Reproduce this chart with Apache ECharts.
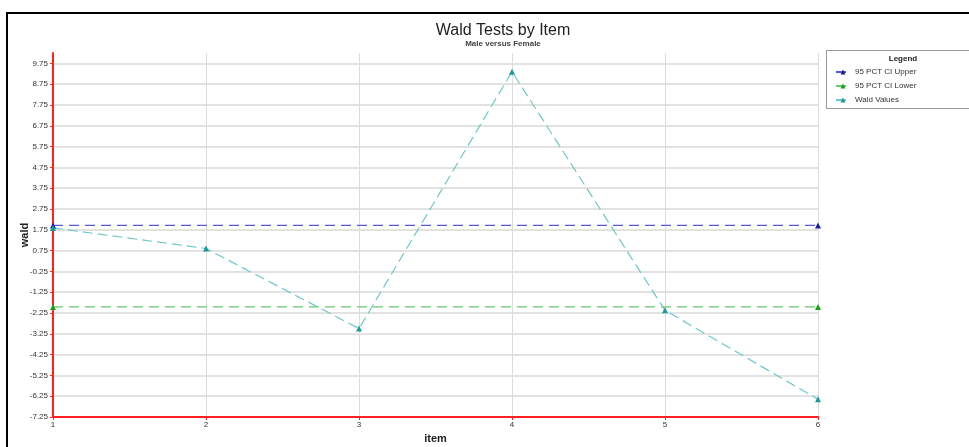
<!DOCTYPE html>
<html>
<head>
<meta charset="utf-8">
<script src="https://cdn.jsdelivr.net/npm/echarts@6/dist/echarts.min.js"></script>
<style>html,body{margin:0;padding:0;background:#fff;}#c{width:969px;height:447px;}</style>
</head>
<body>
<div id="c"></div>
<script>
var items = [1, 2, 3, 4, 5, 6];
var waldValues = [1.84, 0.85, -3.0, 9.35, -2.12, -6.4];
var ciItems = [1, 6];
var ciUpper = [1.96, 1.96];
var ciLower = [-1.96, -1.96];
var seriesNames = ['95 PCT CI Upper', '95 PCT CI Lower', 'Wald Values'];

function pairs(xs, ys) { return xs.map(function (x, i) { return [x, ys[i]]; }); }

var chart = echarts.init(document.getElementById('c'), null, { renderer: 'canvas' });
var font = 'Liberation Sans, Arial, sans-serif';
chart.setOption({
  animation: false,
  backgroundColor: '#fff',
  title: [{
    text: 'Wald Tests by Item',
    subtext: 'Male versus Female',
    left: 498, top: 18, textAlign: 'center',
    itemGap: 1,
    textStyle: { fontFamily: font, fontSize: 16, fontWeight: 'normal', color: '#222' },
    subtextStyle: { fontFamily: font, fontSize: 8, fontWeight: 'bold', color: '#444' }
  }, {
    text: 'Legend', left: 898, top: 50, textAlign: 'center',
    textStyle: { fontFamily: font, fontSize: 8, fontWeight: 'bold', color: '#222' }
  }],
  graphic: [
    { type: 'rect', shape: { x: 7, y: 13, width: 975, height: 445 }, style: { fill: null, stroke: '#000', lineWidth: 2 }, z: 100 },
    { type: 'rect', shape: { x: 826.5, y: 50.5, width: 160, height: 58 }, style: { fill: '#fff', stroke: '#999', lineWidth: 1 }, z: 0 }
  ],
  legend: {
    data: seriesNames,
    orient: 'vertical',
    left: 830, top: 63,
    itemGap: 6,
    itemWidth: 14, itemHeight: 6,
    textStyle: { fontFamily: font, fontSize: 8, color: '#333' }
  },
  grid: { left: 53, right: 151, top: 53, bottom: 30, containLabel: false, outerBoundsMode: 'none' },
  xAxis: {
    type: 'value', min: 1, max: 6, interval: 1,
    name: 'item', nameLocation: 'middle', nameGap: 16, nameMoveOverlap: false,
    nameTextStyle: { fontFamily: font, fontSize: 11, fontWeight: 'bold', color: '#222' },
    axisLine: { onZero: false, lineStyle: { color: '#ff2020', width: 2 } },
    axisTick: { show: true, length: 3, lineStyle: { color: '#ff2020' } },
    axisLabel: { fontFamily: font, fontSize: 8, color: '#333', margin: 4 },
    splitLine: { show: true, lineStyle: { color: '#dcdcdc', width: 1 } }
  },
  yAxis: {
    type: 'value', min: -7.25, max: 10.25, interval: 1,
    name: 'wald', nameLocation: 'middle', nameGap: 23, nameRotate: 90, nameMoveOverlap: false,
    nameTextStyle: { fontFamily: font, fontSize: 11, fontWeight: 'bold', color: '#222' },
    axisLine: { show: true, onZero: false, lineStyle: { color: '#ff2020', width: 2 } },
    axisTick: { show: true, length: 3, lineStyle: { color: '#ff2020' } },
    axisLabel: { fontFamily: font, fontSize: 8, color: '#333', margin: 5, showMaxLabel: false,
      formatter: function (v) { return v.toFixed(2); } },
    splitLine: { show: true, showMaxLine: false, lineStyle: { color: '#e2e2e2', width: 2 } }
  },
  series: [{
    name: seriesNames[0], type: 'line', data: pairs(ciItems, ciUpper),
    symbol: 'triangle', symbolSize: 6,
    itemStyle: { color: '#1c1c9c' },
    lineStyle: { color: '#5a5ad8', width: 1.2, type: [10, 6] }
  }, {
    name: seriesNames[1], type: 'line', data: pairs(ciItems, ciLower),
    symbol: 'triangle', symbolSize: 6,
    itemStyle: { color: '#18a018' },
    lineStyle: { color: '#6cc86c', width: 1.2, type: [10, 6] }
  }, {
    name: seriesNames[2], type: 'line', data: pairs(items, waldValues),
    symbol: 'triangle', symbolSize: 6,
    itemStyle: { color: '#1a9a9a' },
    lineStyle: { color: '#6cc8c8', width: 1.2, type: [10, 5] }
  }]
});
</script>
</body>
</html>
